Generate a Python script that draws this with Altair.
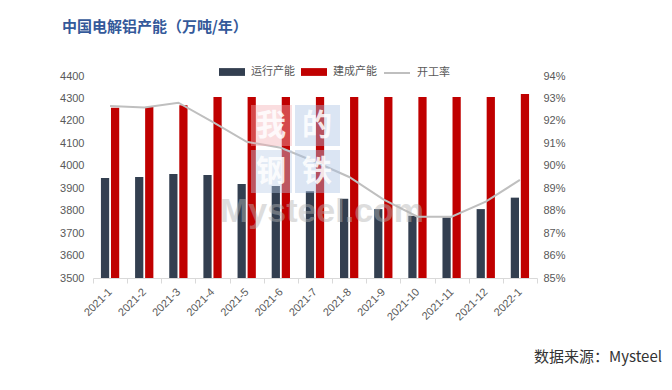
import altair as alt
import pandas as pd

months = ["2021-1", "2021-2", "2021-3", "2021-4", "2021-5", "2021-6", "2021-7",
          "2021-8", "2021-9", "2021-10", "2021-11", "2021-12", "2022-1"]
running = [3945, 3950, 3963, 3959, 3919, 3910, 3887, 3853, 3807, 3777, 3770, 3807, 3858]
built = [4259, 4262, 4270, 4306, 4306, 4306, 4306, 4306, 4306, 4306, 4306, 4306, 4320]
rate = [92.66, 92.60, 92.81, 91.96, 91.07, 90.80, 90.18, 89.50, 88.50, 87.73, 87.73, 88.40, 89.37]
series_names = ["运行产能", "建成产能"]
series_colors = ["#333F50", "#C00000"]
line_name = "开工率"
left_ticks = [3500, 3600, 3700, 3800, 3900, 4000, 4100, 4200, 4300, 4400]
right_ticks = [0.85, 0.86, 0.87, 0.88, 0.89, 0.90, 0.91, 0.92, 0.93, 0.94]

title_text = "中国电解铝产能（万吨/年）"
source_text = "数据来源：Mysteel"

bars_df = pd.DataFrame({
    "month": months * 2,
    "type": [series_names[0]] * len(months) + [series_names[1]] * len(months),
    "value": running + built,
})
line_df = pd.DataFrame({
    "month": months,
    "rate": [r / 100 for r in rate],
    "s": [line_name] * len(months),
})

FONT = "Noto Sans CJK SC"
NUMFONT = "Liberation Sans"

x_enc = alt.X(
    "month:N", sort=months, title=None,
    scale=alt.Scale(paddingInner=0, paddingOuter=0),
    axis=alt.Axis(labelAngle=-45, labelAlign="right", labelBaseline="middle",
                  labelPadding=7, labelFont=NUMFONT, labelFontSize=11,
                  labelColor="#595959", tickBand="extent", ticks=True,
                  tickColor="#D9D9D9", tickSize=5, domainColor="#D9D9D9",
                  grid=False),
)

bars = alt.Chart(bars_df).mark_bar().encode(
    x=x_enc,
    xOffset=alt.XOffset("type:N", sort=series_names,
                        scale=alt.Scale(paddingInner=0.18, paddingOuter=0.79)),
    y=alt.Y("value:Q", title=None,
            scale=alt.Scale(domain=[3500, 4400], zero=False, nice=False),
            axis=alt.Axis(values=left_ticks, format="d", domain=False, ticks=False,
                          grid=False, labelFont=NUMFONT, labelFontSize=11,
                          labelColor="#595959", labelPadding=9, orient="left")),
    y2=alt.datum(3500),
    color=alt.Color("type:N", sort=series_names, title=None,
                    scale=alt.Scale(domain=series_names, range=series_colors),
                    legend=alt.Legend(orient="none", legendX=126, legendY=-17,
                                      direction="horizontal",
                                      symbolType="M-1,-0.3H1V0.3H-1Z",
                                      symbolSize=676, symbolStrokeWidth=0,
                                      labelFont=FONT, labelFontSize=11,
                                      labelColor="#595959", labelOffset=6,
                                      columnPadding=6)),
)

line = alt.Chart(line_df).mark_line(strokeWidth=2).encode(
    x=x_enc,
    y=alt.Y("rate:Q", title=None,
            scale=alt.Scale(domain=[0.85, 0.94], zero=False, nice=False),
            axis=alt.Axis(values=right_ticks, format=".0%", domain=False, ticks=False,
                          grid=False, labelFont=NUMFONT, labelFontSize=11,
                          labelColor="#595959", labelPadding=6, orient="right")),
    color=alt.Color("s:N", title=None,
                    scale=alt.Scale(domain=[line_name], range=["#BFBFBF"]),
                    legend=alt.Legend(orient="none", legendX=290, legendY=-17,
                                      direction="horizontal", symbolType="stroke",
                                      symbolSize=676, symbolStrokeWidth=2,
                                      labelFont=FONT, labelFontSize=11,
                                      labelColor="#595959", labelOffset=6)),
)


def txt(text, x, y, **kw):
    return alt.Chart(pd.DataFrame({"t": [text]})).mark_text(**kw).encode(
        x=alt.value(x), y=alt.value(y), text="t:N")


def tile(x1, x2, y1, y2, color):
    return alt.Chart(pd.DataFrame({"t": [1]})).mark_rect(color=color, opacity=0.42).encode(
        x=alt.value(x1), x2=alt.value(x2), y=alt.value(y1), y2=alt.value(y2))


watermark = [
    tile(158, 199, 29, 70, "#F2AEB3"),
    tile(202, 247, 29, 70, "#A9C2E2"),
    tile(158, 199, 74, 117, "#B9CCE6"),
    tile(202, 247, 74, 117, "#A9C2E2"),
    txt("我", 178, 50, font=FONT, fontSize=30, fontWeight="bold", color="white", opacity=0.85),
    txt("的", 224, 50, font=FONT, fontSize=30, fontWeight="bold", color="white", opacity=0.85),
    txt("钢", 178, 96, font=FONT, fontSize=30, fontWeight="bold", color="white", opacity=0.85),
    txt("铁", 224, 96, font=FONT, fontSize=30, fontWeight="bold", color="white", opacity=0.85),
    txt("Mysteel.com", 127, 146, font=NUMFONT, fontSize=34, fontWeight="bold",
        color="#B5B5B5", opacity=0.45, align="left", baseline="alphabetic"),
]

title = txt(title_text, -31, -49, font=FONT, fontSize=15, fontWeight="bold",
            color="#34599A", align="left", baseline="middle")
source = txt(source_text, 569, 281, font=FONT, fontSize=15, color="#333333",
             align="right", baseline="middle")

chart = alt.layer(bars, line, *watermark, title, source).resolve_scale(
    y="independent", color="independent"
).properties(
    width=444, height=202,
    autosize=alt.AutoSizeParams(type="none"),
    padding={"left": 85, "top": 68, "right": 127, "bottom": 104},
    background="white",
).configure_view(stroke="transparent")

chart.save("out.html", embed_options={"renderer": "svg", "actions": False})
